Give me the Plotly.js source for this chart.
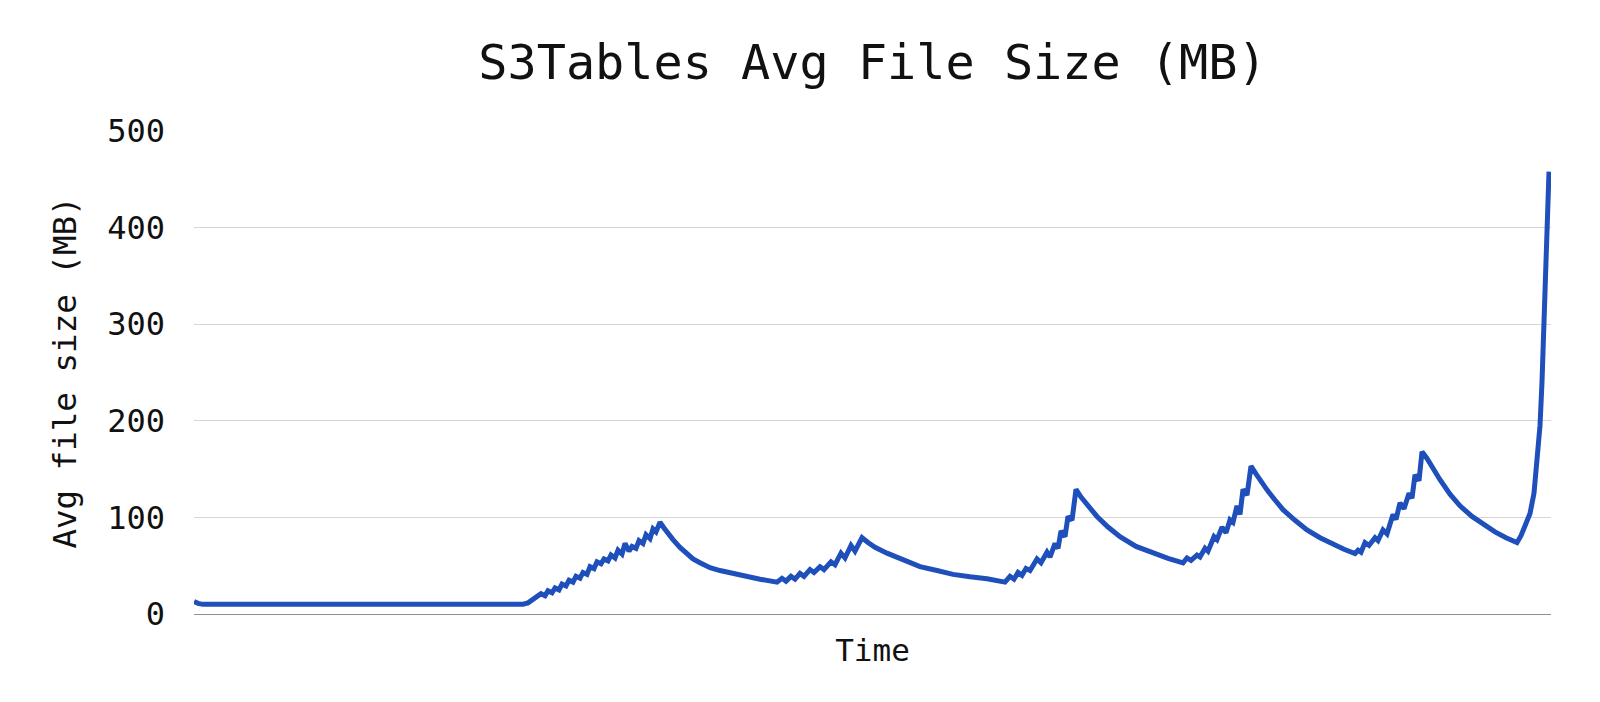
<!DOCTYPE html>
<html>
<head>
<meta charset="utf-8">
<script src="https://cdn.plot.ly/plotly-3.0.1.min.js"></script>
<style>html,body{margin:0;padding:0;background:#fff;}#chart{width:1600px;height:702px;}</style>
</head>
<body>
<div id="chart"></div>
<script>
// Time (arbitrary units, no tick labels shown on the reference)
const time = [
  0, 4, 9, 56, 106, 156, 206, 256, 306, 329,
  334, 339, 344, 347, 351, 354, 358, 361, 365, 368, 372, 375, 379, 382, 386, 389, 393,
  396, 400, 403, 407, 410, 414, 417, 421, 424, 428, 431, 435, 438, 442, 445, 449, 452,
  456, 459, 462, 466,
  470, 474, 479, 486, 492, 499, 506, 516, 526, 539, 551, 566, 583,
  588, 592, 597, 601, 606, 610, 616, 620, 626, 630, 637, 641, 647, 651, 657, 661, 668,
  674, 681, 693, 706, 726, 743, 759, 776, 793, 811,
  816, 820, 824, 828, 832, 836, 843, 847, 853, 856, 861, 864, 867, 871, 874, 878, 882,
  887, 893, 903, 914, 926, 942, 959, 974, 989,
  993, 997, 1003, 1006, 1011, 1014, 1020, 1023, 1028, 1032, 1036, 1039, 1043, 1046, 1049, 1053, 1057,
  1062, 1067, 1073, 1081, 1089, 1101, 1113, 1126, 1139, 1150, 1161,
  1164, 1167, 1171, 1175, 1181, 1184, 1189, 1193, 1199, 1202, 1206, 1210, 1215, 1218, 1221, 1225, 1228,
  1233, 1239, 1246, 1256, 1266, 1278, 1289, 1301, 1312, 1323,
  1327, 1331, 1336, 1340, 1343, 1346, 1348, 1350, 1352, 1353.5, 1355
];
// Average file size in MB
const avgFileSizeMB = [
  13, 11, 10, 10, 9.8, 10, 10.2, 10.2, 10.2, 10.2,
  11.5, 15, 19, 21, 19, 24, 22, 27, 25, 31, 29, 35, 33, 39, 37, 43, 41,
  49, 47, 54, 52, 57, 55, 61, 58, 66, 62, 73, 65, 70, 68, 76, 73, 82,
  78, 88, 85, 95,
  89, 83, 77, 69, 63, 57, 53, 48, 45, 42, 39, 36, 33,
  37, 34, 39, 36, 42, 39, 46, 43, 49, 46, 54, 51, 63, 58, 71, 65, 79,
  74, 69, 63, 57, 49, 45, 41, 38.5, 36.5, 33,
  39, 36, 43, 40, 47, 45, 57, 53, 64, 59, 73, 68, 86, 80, 101, 97, 129,
  121, 113, 101, 90, 80, 70, 63, 57.5, 53,
  58, 55.5, 61, 59, 68, 65, 80, 77, 90, 84, 97.5, 95, 112, 103, 129, 123, 153,
  145, 137, 128.5, 118, 108, 97, 87, 79, 72, 67, 62.5,
  66, 64, 74, 71, 79, 76, 87, 83, 103, 98, 115, 109, 125, 120, 144, 138, 168,
  161, 150, 139, 124, 112, 101, 93, 85, 79, 74,
  81, 90, 104, 125, 155, 195, 240, 300, 370, 420, 458
];
const yTicks = [0, 100, 200, 300, 400, 500];
const yTickLabels = ["0", "100", "200", "300", "400", "500"];

const FONT = "DejaVu Sans Mono, Liberation Mono, monospace";

const trace = {
  x: time,
  y: avgFileSizeMB,
  type: "scatter",
  mode: "lines",
  line: { color: "#1f4fba", width: 5 },
  hoverinfo: "y"
};

const layout = {
  width: 1600,
  height: 702,
  paper_bgcolor: "#ffffff",
  plot_bgcolor: "#ffffff",
  margin: { l: 194, r: 49, t: 131, b: 88 },
  showlegend: false,
  title: {
    text: "S3Tables Avg File Size (MB)",
    font: { family: FONT, size: 48.5, color: "#111111" },
    xref: "paper", x: 0.5, xanchor: "center",
    yref: "container", y: 1 - 62 / 702, yanchor: "middle"
  },
  xaxis: {
    range: [0, 1357],
    showgrid: false,
    zeroline: false,
    showticklabels: false,
    ticks: "",
    showline: true,
    linecolor: "#8f8f8f",
    linewidth: 1,
    title: {
      text: "Time",
      font: { family: FONT, size: 31, color: "#111111" },
      standoff: 25
    }
  },
  yaxis: {
    range: [0, 500],
    tickvals: yTicks,
    ticktext: yTickLabels,
    showgrid: true,
    gridcolor: "#d6d6d6",
    gridwidth: 1,
    zeroline: false,
    showline: false,
    ticks: "",
    ticklabelstandoff: 28,
    tickfont: { family: FONT, size: 32, color: "#111111" },
    title: {
      text: "Avg file size (MB)",
      font: { family: FONT, size: 32.5, color: "#111111" },
      standoff: 20
    }
  }
};

Plotly.newPlot("chart", [trace], layout, { displayModeBar: false, staticPlot: true });
</script>
</body>
</html>
